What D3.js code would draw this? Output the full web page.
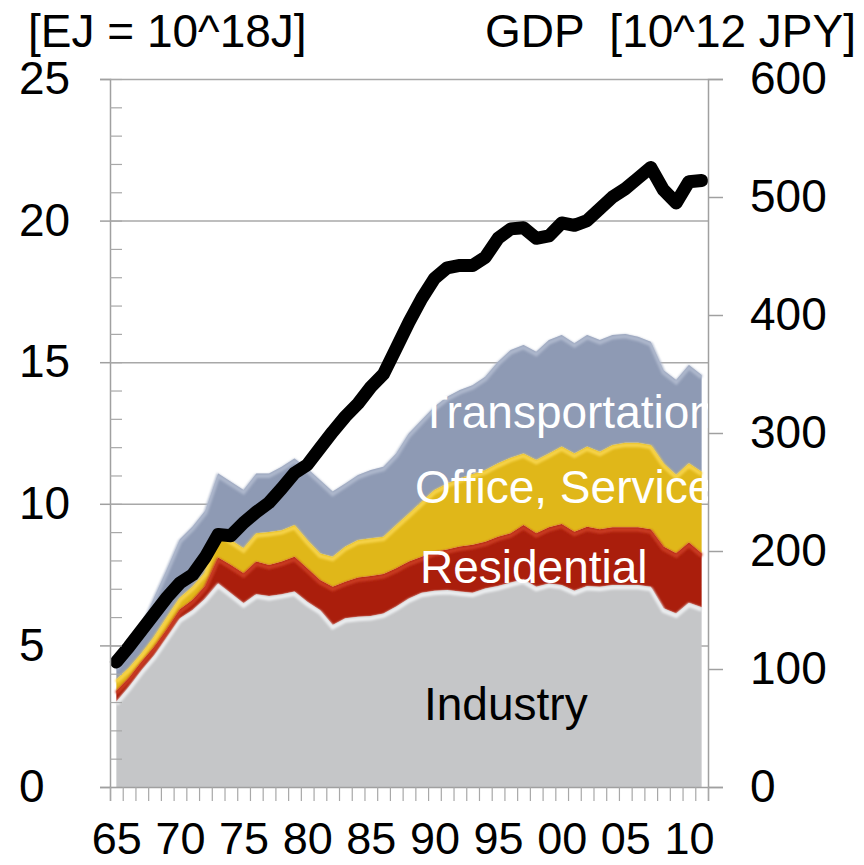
<!DOCTYPE html>
<html>
<head>
<meta charset="utf-8">
<script src="https://cdn.jsdelivr.net/npm/d3@7"></script>
<style>
  body { margin: 0; background: #fff; }
  svg { display: block; font-family: "Liberation Sans", Arial, sans-serif; }
</style>
</head>
<body>
<svg id="chart"></svg>
<script>
const width = 864;
const height = 865;
const plotLeft = 110, plotRight = 708, plotTop = 79, plotBottom = 787;

// years 1965..2011
const years = d3.range(1965, 2012);
// final energy consumption by sector [EJ]
const industry = [3.01,3.54,4.13,4.66,5.31,5.96,6.25,6.66,7.19,6.84,6.49,6.81,6.74,6.81,6.90,6.54,6.25,
                  5.72,5.96,6.01,6.04,6.13,6.37,6.66,6.86,6.93,6.96,6.90,6.86,7.01,7.10,7.22,
                  7.33,7.07,7.19,7.13,6.93,7.10,7.07,7.13,7.13,7.13,7.07,6.31,6.13,6.51,6.35];
const residential = [0.39,0.32,0.31,0.30,0.28,0.32,0.36,0.45,0.91,1.00,1.06,1.15,1.10,1.15,1.23,1.18,1.06,
                     1.35,1.29,1.39,1.41,1.39,1.35,1.30,1.27,1.38,1.43,1.59,1.69,1.65,1.74,1.74,
                     1.92,1.89,1.98,2.16,2.08,2.09,2.03,2.04,2.04,2.04,2.03,2.18,2.12,2.12,1.90];
const office = [0.40,0.35,0.29,0.36,0.42,0.41,0.47,0.48,0.97,0.88,0.88,1.00,1.16,1.11,1.12,1.00,0.94,
                1.06,1.24,1.32,1.33,1.32,1.53,1.70,1.94,2.18,2.33,2.41,2.50,2.53,2.59,2.67,
                2.53,2.59,2.61,2.73,2.77,2.83,2.74,2.91,2.99,2.99,2.98,2.94,2.77,2.80,2.88];
const transport = [0.45,0.71,0.94,1.40,1.70,2.06,2.12,2.17,2.00,2.06,2.06,2.11,2.07,2.24,2.35,2.53,2.59,
                   2.30,2.23,2.30,2.41,2.47,2.53,2.83,2.89,2.94,3.06,3.12,3.14,3.30,3.59,3.80,
                   3.83,3.82,4.00,3.94,3.89,3.94,3.94,3.88,3.84,3.74,3.64,3.29,3.35,3.47,3.42];
// GDP [10^12 JPY]
const gdp = [106,119,133,147,161,173,180,195,214,213,224,233,241,253,266,273,287,
             301,314,325,339,350,372,394,414,431,440,442,442,449,465,473,
             474,465,467,478,476,480,490,500,507,516,525,506,495,513,514];

const sectors = ["Industry", "Residential", "Office, Service", "Transportation"];
const leftTicks = [0, 5, 10, 15, 20, 25];
const rightTicks = [0, 100, 200, 300, 400, 500, 600];
const yearLabels = [1965, 1970, 1975, 1980, 1985, 1990, 1995, 2000, 2005, 2010];

const fills = ["#c5c6c8", "#aa1e0c", "#e0b719", "#8e9ab4"];
const highlights = ["#eceef0", "#c93a22", "#f6d34a", "#adb7cc"];

const table = years.map((y, i) => ({
  year: y,
  "Industry": industry[i],
  "Residential": residential[i],
  "Office, Service": office[i],
  "Transportation": transport[i]
}));

const svg = d3.select("#chart").attr("width", width).attr("height", height);

const x = d3.scaleLinear().domain([1964.5, 2011.5]).range([plotLeft, plotRight]);
const yL = d3.scaleLinear().domain([0, 25]).range([plotBottom, plotTop]);
const yR = d3.scaleLinear().domain([0, 600]).range([plotBottom, plotTop]);

const defs = svg.append("defs");
defs.append("clipPath").attr("id", "plot")
  .append("rect").attr("x", plotLeft).attr("y", plotTop)
  .attr("width", plotRight - plotLeft).attr("height", plotBottom - plotTop);
defs.append("filter").attr("id", "soft")
  .append("feGaussianBlur").attr("stdDeviation", 1.2);

// gridlines
svg.append("g")
  .attr("transform", `translate(${plotLeft},0)`)
  .call(d3.axisLeft(yL).tickValues([5, 10, 15, 20, 25]).tickSize(-(plotRight - plotLeft)).tickFormat(""))
  .call(g => g.select(".domain").remove())
  .call(g => g.selectAll("line").attr("stroke", "#a8a8a8").attr("stroke-width", 1.5));

const stack = d3.stack().keys(sectors)(table);

const area = d3.area()
  .x(d => x(d.data.year))
  .y0(d => yL(d[0]))
  .y1(d => yL(d[1]));

const topLine = d3.line()
  .x(d => x(d.data.year))
  .y(d => yL(d[1]));

const layers = svg.append("g").attr("clip-path", "url(#plot)");
layers.selectAll("path.area")
  .data(stack)
  .enter()
  .append("path")
    .attr("class", "area")
    .attr("d", area)
    .attr("fill", (d, i) => fills[i]);

layers.selectAll("path.hl")
  .data(stack)
  .enter()
  .append("path")
    .attr("class", "hl")
    .attr("d", topLine)
    .attr("transform", "translate(0,2.5)")
    .attr("fill", "none")
    .attr("stroke", (d, i) => highlights[i])
    .attr("stroke-width", 4)
    .attr("filter", "url(#soft)");

// GDP line
const gdpLine = d3.line()
  .x((d, i) => x(years[i]))
  .y(d => yR(d));
svg.append("path")
  .datum(gdp)
  .attr("d", gdpLine)
  .attr("fill", "none")
  .attr("stroke", "#000")
  .attr("stroke-width", 13)
  .attr("stroke-linejoin", "round")
  .attr("stroke-linecap", "round");

// left axis
svg.append("g")
  .attr("transform", `translate(${plotLeft},0)`)
  .call(d3.axisLeft(yL).tickValues(leftTicks).tickSize(10).tickPadding(8))
  .call(g => g.select(".domain").attr("stroke", "#a0a0a0").attr("stroke-width", 1.5))
  .call(g => g.selectAll("line").attr("stroke", "#a0a0a0").attr("stroke-width", 1.5))
  .call(g => g.selectAll("text")
    .attr("text-anchor", "start").attr("x", 19 - plotLeft)
    .attr("font-size", 46).attr("fill", "#000"));

// minor ticks inside
svg.append("g")
  .attr("transform", `translate(${plotLeft},0)`)
  .call(d3.axisRight(yL).tickValues(d3.range(0, 26, 1)).tickSize(12).tickFormat(""))
  .call(g => g.select(".domain").remove())
  .call(g => g.selectAll("line").attr("stroke", "#a8a8a8").attr("stroke-width", 1.2));

// right axis
svg.append("g")
  .attr("transform", `translate(${plotRight},0)`)
  .call(d3.axisRight(yR).tickValues(rightTicks).tickSize(15).tickPadding(27))
  .call(g => g.select(".domain").attr("stroke", "#a0a0a0").attr("stroke-width", 1.5))
  .call(g => g.selectAll("line").attr("stroke", "#a0a0a0").attr("stroke-width", 1.5))
  .call(g => g.selectAll("text").attr("font-size", 46).attr("fill", "#000"));

// x axis ticks on category boundaries
svg.append("g")
  .attr("transform", `translate(0,${plotBottom})`)
  .call(d3.axisBottom(x).tickValues(d3.range(1964.5, 2012, 1)).tickSize(14).tickFormat(""))
  .call(g => g.select(".domain").attr("stroke", "#a0a0a0").attr("stroke-width", 1.5))
  .call(g => g.selectAll("line").attr("stroke", "#a8a8a8").attr("stroke-width", 1.2));

svg.append("g")
  .attr("transform", `translate(0,${plotBottom})`)
  .call(d3.axisBottom(x).tickValues(yearLabels).tickSize(0).tickPadding(35)
    .tickFormat(d => String(d % 100).padStart(2, "0")))
  .call(g => g.select(".domain").remove())
  .call(g => g.selectAll("text").attr("font-size", 45).attr("fill", "#000"));

// unit titles
svg.append("text")
  .attr("x", 28).attr("y", 47)
  .attr("font-size", 46)
  .text("[EJ = 10^18J]");
svg.append("text")
  .attr("x", 856).attr("y", 47)
  .attr("font-size", 46)
  .attr("text-anchor", "end")
  .style("white-space", "pre")
  .text("GDP  [10^12 JPY]");

// sector labels
const labels = svg.append("g").attr("clip-path", "url(#plot)").attr("font-size", 46);
const labelText = ["Transportation", "Office, Service", "Residential", "Industry"];
const labelY = [428, 503, 583, 720];
const labelX = [420, 415, 420, 424];
const labelFill = ["#fff", "#fff", "#fff", "#000"];
labels.selectAll("text")
  .data(labelText)
  .enter()
  .append("text")
    .attr("x", (d, i) => labelX[i])
    .attr("y", (d, i) => labelY[i])
    .attr("fill", (d, i) => labelFill[i])
    .text(d => d);
</script>
</body>
</html>
